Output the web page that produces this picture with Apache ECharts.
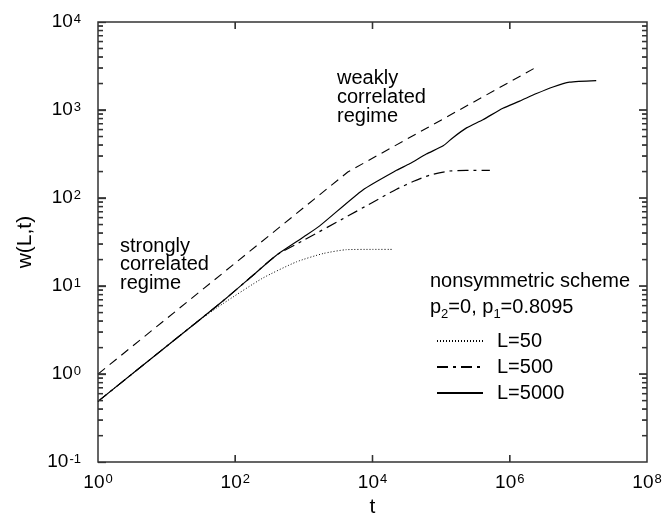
<!DOCTYPE html>
<html><head><meta charset="utf-8">
<script src="https://cdn.jsdelivr.net/npm/echarts@6/dist/echarts.min.js"></script>
<style>html,body{margin:0;padding:0;background:#fff}#c{width:669px;height:523px}</style>
</head><body><div id="c"></div>
<script>
// ---- data ----
const tL50 = [1, 10, 25.1, 66, 251, 776, 1905, 4169, 10000, 19953];
const wL50 = [0.49, 2.07, 3.7, 6.3, 12.3, 18.8, 23.4, 25.9, 26.1, 26.1];

const tL500 = [1, 10, 66, 180, 398, 1000, 4365, 10000, 22387, 39811, 67608, 131826, 251189, 512861];
const wL500 = [0.49, 2.07, 6.76, 13.2, 22.4, 33.2, 62.4, 89.1, 125.9, 154.9, 181.6, 202.8, 206.1, 206.5];

const tL5000 = [1, 10, 66, 180, 398, 1000, 1700, 7244, 22387, 34674, 60814, 107152, 148594, 234423, 406443, 794328, 1393157, 2454709, 4265795, 7413102, 18197009];
const wL5000 = [0.49, 2.07, 6.76, 13.2, 22.4, 36.3, 48.3, 123.6, 206.5, 244.9, 316, 392.6, 485, 626.6, 776, 1047, 1262, 1538, 1828, 2075, 2163];

const tGuide = [1, 4365, 2398833];
const wGuide = [1.0, 197.7, 3048];

const xLabelEvery = 2;                 // x labels at every 2nd decade: 10^0, 10^2, ... 10^8
const xInnerTicks = [1e2, 1e4, 1e6];
const yInnerTicks = [1, 10, 100, 1000];
const yDecades = [0.1, 1, 10, 100, 1000];
const yMinorMultipliers = [2, 3, 4, 5, 6, 7, 8, 9];

const seriesNames = ['L=50', 'L=500', 'L=5000'];

// ---- build ----
const zip = (a, b) => a.map((v, i) => [v, b[i]]);
const X_MIN = 1, X_MAX = 1e8, Y_MIN = 0.1, Y_MAX = 1e4;
const yMinorTicks = [];
yDecades.forEach(d => yMinorMultipliers.forEach(m => yMinorTicks.push(d * m)));

// tick marks drawn inside the frame: [x, y, dirX, dirY, length]
const tickItems = [];
xInnerTicks.forEach(x => { tickItems.push([x, Y_MIN, 0, -1, 7]); tickItems.push([x, Y_MAX, 0, 1, 7]); });
yInnerTicks.forEach(y => { tickItems.push([X_MIN, y, 1, 0, 8]); tickItems.push([X_MAX, y, -1, 0, 8]); });
yMinorTicks.forEach(y => { tickItems.push([X_MIN, y, 1, 0, 5]); tickItems.push([X_MAX, y, -1, 0, 5]); });

const FONT = '"Liberation Sans", Arial, Helvetica, sans-serif';
const AX = '#333';
const labelRich = {
  b: { fontSize: 19, fontFamily: FONT, color: '#000', verticalAlign: 'bottom' },
  s: { fontSize: 13, fontFamily: FONT, color: '#000', verticalAlign: 'top', padding: [0, 0, 6, 1] }
};
const expOf = v => Math.round(Math.log10(v));
const yFmt = v => '{b|10}{s|' + expOf(v) + '}';
const xFmt = v => (expOf(v) % xLabelEvery === 0 ? '{b|10}{s|' + expOf(v) + '}' : '');

const tickShape = (p, it) => ({ x1: p[0], y1: p[1], x2: p[0] + it[2] * it[4], y2: p[1] + it[3] * it[4] });
const inChart = p => p && isFinite(p[0]) && isFinite(p[1]) && p[0] >= 0 && p[0] <= 669 && p[1] >= 0 && p[1] <= 523;

const textGraphics = [
  { type: 'text', left: 120, top: 236, style: { text: 'strongly\ncorrelated\nregime', font: '20px ' + FONT, lineHeight: 18.7, fill: '#000' } },
  { type: 'text', left: 337, top: 68, style: { text: 'weakly\ncorrelated\nregime', font: '20px ' + FONT, lineHeight: 19, fill: '#000' } },
  { type: 'text', left: 430, top: 271, style: { text: 'nonsymmetric scheme', font: '20px ' + FONT, fill: '#000' } },
  { type: 'text', left: 430, top: 297, style: {
      text: '{n|p}{sub|2}{n|=0, p}{sub|1}{n|=0.8095}',
      rich: {
        n: { fontSize: 20, fontFamily: FONT, fill: '#000', verticalAlign: 'top', padding: [0, 0, 4, 0] },
        sub: { fontSize: 13, fontFamily: FONT, fill: '#000', verticalAlign: 'bottom' }
      }
    } }
];

const option = {
  animation: false,
  grid: { left: 98, right: 22, top: 22, bottom: 52, show: true, borderColor: AX, borderWidth: 1.5 },
  xAxis: {
    type: 'log', min: X_MIN, max: X_MAX,
    splitLine: { show: false },
    axisLine: { show: false }, axisTick: { show: false },
    axisLabel: { show: true, formatter: xFmt, rich: labelRich, margin: 11 },
    name: 't', nameLocation: 'middle', nameGap: 30,
    nameTextStyle: { fontSize: 21, fontFamily: FONT, color: '#000' }
  },
  yAxis: {
    type: 'log', min: Y_MIN, max: Y_MAX,
    splitLine: { show: false },
    axisLine: { show: false },
    axisTick: { show: true, inside: true, length: 8, lineStyle: { color: AX, width: 1.3 } },
    axisLabel: { show: true, formatter: yFmt, rich: labelRich, margin: 17 },
    name: 'w(L,t)', nameLocation: 'middle', nameGap: 62, nameRotate: 90,
    nameTextStyle: { fontSize: 21, fontFamily: FONT, color: '#000' }
  },
  legend: {
    data: seriesNames,
    orient: 'vertical', left: 436, top: 331, padding: 0,
    itemWidth: 46, itemHeight: 14, itemGap: 6,
    selectedMode: false,
    itemStyle: { opacity: 0 },
    textStyle: { fontSize: 20, fontFamily: FONT, color: '#000', lineHeight: 20, padding: [0, 0, 0, 9] }
  },
  series: [
    {
      name: 'ticks', type: 'custom', z: 10,
      dimensions: ['tx', 'ty', 'dx', 'dy', 'len'], encode: { x: 0, y: 1 },
      data: tickItems,
      renderItem: (params, api) => {
        const p = api.coord([api.value(0), api.value(1)]);
        const it = [api.value(0), api.value(1), api.value(2), api.value(3), api.value(4)];
        return { type: 'line', shape: tickShape(p, it), style: { stroke: AX, lineWidth: 1.3 } };
      }
    },
    {
      name: 'guide', type: 'line', data: zip(tGuide, wGuide), symbol: 'none',
      lineStyle: { color: '#000', width: 1.1, type: [9, 6] }, silent: true, z: 2
    },
    {
      name: seriesNames[0], type: 'line', data: zip(tL50, wL50), symbol: 'none', smooth: 0.2,
      itemStyle: { color: '#000' },
      lineStyle: { color: '#000', width: 1, type: [1, 2] }, z: 3
    },
    {
      name: seriesNames[1], type: 'line', data: zip(tL500, wL500), symbol: 'none', smooth: 0.2,
      itemStyle: { color: '#000' },
      lineStyle: { color: '#000', width: 1.2, type: [11, 5, 3, 5] }, z: 4
    },
    {
      name: seriesNames[2], type: 'line', data: zip(tL5000, wL5000), symbol: 'none', smooth: 0.2,
      itemStyle: { color: '#000' },
      lineStyle: { color: '#000', width: 1.2, type: 'solid' }, z: 5
    }
  ],
  graphic: textGraphics
};

const chart = echarts.init(document.getElementById('c'));
chart.setOption(option);

// Also place the same inside ticks as graphic lines, positioned through the chart's own
// log scales (convertToPixel), so they appear even if the custom series draws nothing.
const tickGraphics = [];
tickItems.forEach(it => {
  const p = chart.convertToPixel({ xAxisIndex: 0, yAxisIndex: 0 }, [it[0], it[1]]);
  if (inChart(p)) tickGraphics.push({ type: 'line', z: 50, silent: true, shape: tickShape(p, it), style: { stroke: AX, lineWidth: 1.3 } });
});
chart.setOption({ graphic: textGraphics.concat(tickGraphics) });
</script>
</body></html>
